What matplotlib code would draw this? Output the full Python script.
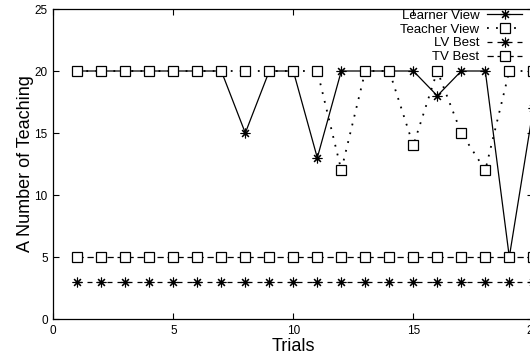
import matplotlib
matplotlib.use("Agg")
from matplotlib import pyplot as plt

plt.rcParams['font.family'] = ['Liberation Sans', 'DejaVu Sans']

trials = list(range(1, 21))
learner_view = [20, 20, 20, 20, 20, 20, 20, 15, 20, 20, 13, 20, 20, 20, 20, 18, 20, 20, 5, 17]
teacher_view = [20, 20, 20, 20, 20, 20, 20, 20, 20, 20, 20, 12, 20, 20, 14, 20, 15, 12, 20, 20]
lv_best = [3] * 20
tv_best = [5] * 20

xticks = [0, 5, 10, 15, 20]
yticks = [0, 5, 10, 15, 20, 25]

fig = plt.figure(figsize=(5.30, 3.63), dpi=100)
ax = fig.add_axes([53.3 / 530, 44 / 363, 480 / 530, 310 / 363])

star = (8, 2, 0)   # asterisk like gnuplot
ms = 7

ax.plot(trials, learner_view, color="black", lw=0.9, ls="-", marker=star,
        ms=ms, mew=0.8, clip_on=False, label="Learner View")
ax.plot(trials, teacher_view, color="black", lw=1.3, ls=(0, (1, 4)), marker="s",
        ms=ms, mew=0.9, mfc="white", clip_on=False, label="Teacher View")
ax.plot(trials, lv_best, color="black", lw=0.9, ls=(0, (4, 4)), marker=star,
        ms=ms, mew=0.8, clip_on=False, label="LV Best")
ax.plot(trials, tv_best, color="black", lw=0.9, ls=(0, (5, 3)), marker="s",
        ms=ms, mew=0.9, mfc="white", clip_on=False, label="TV Best")

ax.set_xlim(0, 20)
ax.set_ylim(0, 25)
ax.set_xticks(xticks)
ax.set_yticks(yticks)
ax.tick_params(direction="in", length=4, width=0.8, top=True, right=True,
               labelsize=8.5, pad=4, colors="black")
for s in ax.spines.values():
    s.set_linewidth(0.9)

ax.set_xlabel("Trials", fontsize=13, labelpad=1)
ax.set_ylabel("A Number of Teaching", fontsize=13, labelpad=0)

leg = ax.legend(loc="upper right", bbox_to_anchor=(0.976, 0.998),
                frameon=False, markerfirst=False, fontsize=9.5, handlelength=2.6,
                handletextpad=0.6, labelspacing=0.12, borderaxespad=0,
                borderpad=0)
for vp in leg._legend_handle_box.get_children():
    vp.align = "right"

fig.savefig("out.png", dpi=100)
